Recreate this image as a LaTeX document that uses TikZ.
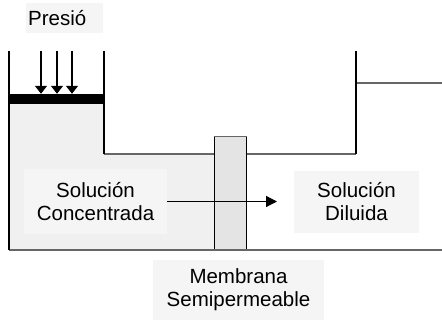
\documentclass[tikz,border=0pt]{standalone}
\usepackage{fontspec}
\setmainfont{Liberation Sans}
\usetikzlibrary{arrows.meta}
\definecolor{regiongray}{HTML}{F0F0F0}
\definecolor{boxgray}{HTML}{F5F5F5}
\definecolor{membgray}{HTML}{E4E4E4}
\definecolor{linegray}{HTML}{666666}
\begin{document}
\begin{tikzpicture}[x=1pt,y=-1pt,
  textbox/.style={fill=boxgray, inner sep=0pt, align=center, font=\fontsize{20.5}{23}\selectfont},
  wall/.style={draw=black, line width=1.3pt},
  level/.style={draw=linegray, line width=2pt},
  pressarrow/.style={draw=black, line width=1.3pt, -{Triangle[length=8pt,width=12pt]}},
  flowarrow/.style={draw=black, line width=1.3pt, -{Triangle[length=11pt,width=11pt]}}]
\useasboundingbox (0,0) rectangle (442,320);
% gray solution region
\fill[regiongray] (9,104) -- (104,104) -- (104,154) -- (214,154) -- (214,250) -- (9,250) -- cycle;
% piston
\node (piston) [fill=black, minimum width=95pt, minimum height=10pt, inner sep=0pt] at (56.5,99) {};
% walls
\coordinate (lwtop) at (9,51);
\coordinate (lwbot) at (9,250);
\coordinate (mwtop) at (104,51);
\coordinate (mwbot) at (104,154);
\coordinate (rwtop) at (356,51);
\coordinate (rwbot) at (356,154);
\coordinate (rlev) at (356,83);
\coordinate (rlevend) at (442,83);
\coordinate (botend) at (442,250);
% membrane
\node (memb) [fill=membgray, draw=black, line width=1pt, minimum width=32pt, minimum height=113pt, inner sep=0pt] at (230,193.5) {};
\draw[draw=linegray, line width=1.5pt] (memb.north west) -- (memb.north east);
\draw[level] (mwbot) -- (mwbot -| memb.west);
\draw[level] (rwbot -| memb.east) -- (rwbot);
\draw[level] (rlev) -- (rlevend);
\draw[level] (lwbot) -- (botend);
\draw[wall] (lwtop) -- (lwbot);
\draw[wall] (mwtop) -- (mwbot);
\draw[wall] (rwtop) -- (rwbot);
% pressure arrows
\coordinate (p1) at (41,51);
\coordinate (p2) at (57,51);
\coordinate (p3) at (72,51);
\draw[pressarrow] (p1) -- (p1 |- piston.north);
\draw[pressarrow] (p2) -- (p2 |- piston.north);
\draw[pressarrow] (p3) -- (p3 |- piston.north);
% labels
\node (presio) [textbox, anchor=west, text width=73pt, align=left, inner xsep=2pt, minimum height=30pt] at (26,18) {Presió};
\node (conc) [textbox, minimum width=143pt, minimum height=65pt] at (95.5,201.5) {Solución\\Concentrada};
\node (dil) [textbox, minimum width=125pt, minimum height=62pt] at (356.5,202) {Solución\\Diluida};
\node (memlabel) [textbox, minimum width=171pt, minimum height=60pt] at (238.5,290) {Membrana\\Semipermeable};
\coordinate (flowend) at (277,201.5);
\draw[flowarrow] (conc.east) -- (flowend);
\end{tikzpicture}
\end{document}
